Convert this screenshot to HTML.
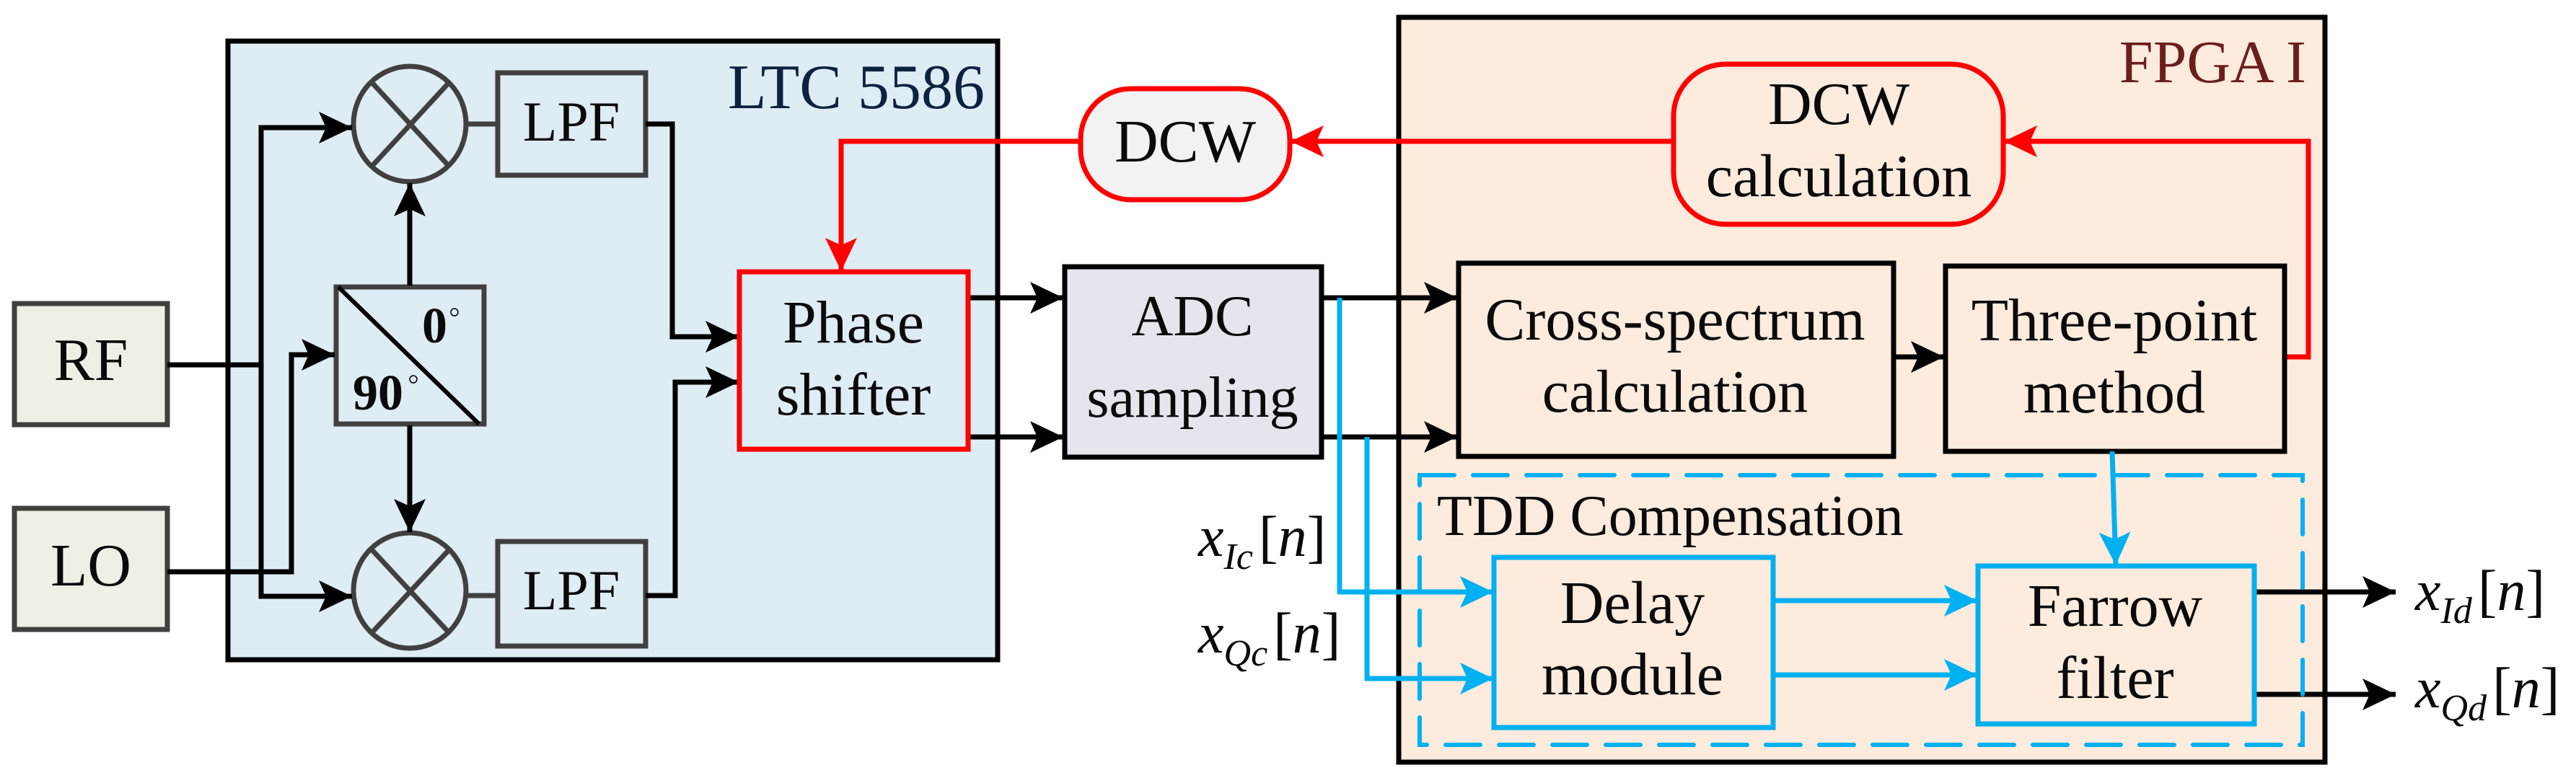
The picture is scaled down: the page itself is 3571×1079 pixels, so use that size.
<!DOCTYPE html>
<html><head><meta charset="utf-8"><style>
html,body{margin:0;padding:0;background:#fff}
svg{display:block}
</style></head><body>
<svg width="3571" height="1079" viewBox="0 0 3571 1079" xmlns="http://www.w3.org/2000/svg">
<defs>
<marker id="ak" markerUnits="userSpaceOnUse" markerWidth="50" markerHeight="50" refX="46" refY="22" orient="auto"><path d="M0,0 L46,22 L0,44 L10,22 Z" fill="#000"/></marker>
<marker id="ar" markerUnits="userSpaceOnUse" markerWidth="50" markerHeight="50" refX="46" refY="22" orient="auto"><path d="M0,0 L46,22 L0,44 L10,22 Z" fill="#f00"/></marker>
<marker id="ab" markerUnits="userSpaceOnUse" markerWidth="50" markerHeight="50" refX="46" refY="22" orient="auto"><path d="M0,0 L46,22 L0,44 L10,22 Z" fill="#00b0f0"/></marker>
</defs>
<rect x="316" y="57" width="1067" height="858" fill="#deecf4" stroke="#000" stroke-width="7"/>
<rect x="1939" y="24" width="1284" height="1033" fill="#fdebdd" stroke="#000" stroke-width="7"/>

<rect x="20" y="421" width="212" height="168" fill="#eef0e6" stroke="#404040" stroke-width="7"/>
<rect x="20" y="705" width="212" height="168" fill="#eef0e6" stroke="#404040" stroke-width="7"/>

<g stroke="#404040" stroke-width="7" fill="none">
<ellipse cx="568" cy="172" rx="78" ry="80"/>
<line x1="516" y1="115" x2="622" y2="230"/><line x1="622" y1="115" x2="516" y2="230"/>
<ellipse cx="568" cy="819" rx="78" ry="80"/>
<line x1="516" y1="763" x2="622" y2="877"/><line x1="622" y1="763" x2="516" y2="877"/>
<rect x="690" y="101" width="205" height="142"/>
<rect x="690" y="751" width="205" height="145"/>
<rect x="466" y="398" width="205" height="190"/>
<line x1="646" y1="172" x2="690" y2="172"/>
<line x1="646" y1="826" x2="690" y2="826"/>
</g>
<line x1="469" y1="398" x2="664" y2="588" stroke="#000" stroke-width="6"/>
<circle cx="630" cy="433" r="5" fill="none" stroke="#000" stroke-width="1.5"/>
<circle cx="573" cy="526" r="5" fill="none" stroke="#000" stroke-width="1.5"/>

<g stroke="#000" stroke-width="7" fill="none">
<polyline points="232,506 362,506"/>
<polyline points="362,506 362,177 488,177" marker-end="url(#ak)"/>
<polyline points="362,506 362,827 488,827" marker-end="url(#ak)"/>
<polyline points="232,793 404,793 404,492 464,492" marker-end="url(#ak)"/>
<line x1="568" y1="396" x2="568" y2="254" marker-end="url(#ak)"/>
<line x1="568" y1="590" x2="568" y2="738" marker-end="url(#ak)"/>
<polyline points="895,172 932,172 932,467 1024,467" marker-end="url(#ak)"/>
<polyline points="895,826 936,826 936,530 1024,530" marker-end="url(#ak)"/>
<line x1="1342" y1="413" x2="1474" y2="413" marker-end="url(#ak)"/>
<line x1="1342" y1="606" x2="1474" y2="606" marker-end="url(#ak)"/>
<line x1="1832" y1="413" x2="2020" y2="413" marker-end="url(#ak)"/>
<line x1="1832" y1="606" x2="2020" y2="606" marker-end="url(#ak)"/>
<line x1="2625" y1="495" x2="2695" y2="495" marker-end="url(#ak)"/>
<line x1="3125" y1="821" x2="3321" y2="821" marker-end="url(#ak)"/>
<line x1="3125" y1="963" x2="3321" y2="963" marker-end="url(#ak)"/>
</g>

<rect x="1025" y="377" width="317" height="246" fill="#deecf4" stroke="#f00" stroke-width="7"/>
<rect x="1476" y="370" width="356" height="264" fill="#e8e4ee" stroke="#000" stroke-width="7"/>
<rect x="1498" y="123" width="290" height="154" rx="70" fill="#f2f2f2" stroke="#f00" stroke-width="7"/>
<rect x="2320" y="89" width="457" height="222" rx="72" fill="#fdebdd" stroke="#f00" stroke-width="7"/>

<g stroke="#f00" stroke-width="7" fill="none">
<line x1="2320" y1="196" x2="1789" y2="196" marker-end="url(#ar)"/>
<polyline points="1498,196 1166,196 1166,376" marker-end="url(#ar)"/>
<polyline points="3167,495 3200,495 3200,196 2778,196" marker-end="url(#ar)"/>
</g>

<rect x="2022" y="365" width="603" height="268" fill="#fdebdd" stroke="#000" stroke-width="7"/>
<rect x="2697" y="369" width="470" height="257" fill="#fdebdd" stroke="#000" stroke-width="7"/>

<rect x="1968" y="659" width="1224" height="374" fill="none" stroke="#00b0f0" stroke-width="6" stroke-dasharray="48,26" stroke-linecap="round"/>
<rect x="2071" y="773" width="387" height="236" fill="#fdebdd" stroke="#00b0f0" stroke-width="7"/>
<rect x="2742" y="785" width="383" height="219" fill="#fdebdd" stroke="#00b0f0" stroke-width="7"/>
<g stroke="#00b0f0" stroke-width="7" fill="none">
<polyline points="1857,413 1857,821 2070,821" marker-end="url(#ab)"/>
<polyline points="1895,606 1895,941 2070,941" marker-end="url(#ab)"/>
<line x1="2458" y1="833" x2="2741" y2="833" marker-end="url(#ab)"/>
<line x1="2458" y1="936" x2="2741" y2="936" marker-end="url(#ab)"/>
<line x1="2928" y1="626" x2="2933" y2="784" marker-end="url(#ab)"/>
</g>

<text x="1365" y="150" font-size="88" text-anchor="end" font-family="Liberation Serif, serif" fill="#0d2240">LTC 5586</text>
<text x="3197" y="114" font-size="84" text-anchor="end" font-family="Liberation Serif, serif" fill="#6b1e1e">FPGA I</text>
<text x="126" y="527" font-size="84" text-anchor="middle" font-family="Liberation Serif, serif" fill="#0a0a0a">RF</text>
<text x="126" y="812" font-size="84" text-anchor="middle" font-family="Liberation Serif, serif" fill="#0a0a0a">LO</text>
<text x="792" y="195" font-size="78" text-anchor="middle" font-family="Liberation Serif, serif" fill="#0a0a0a">LPF</text>
<text x="792" y="845" font-size="78" text-anchor="middle" font-family="Liberation Serif, serif" fill="#0a0a0a">LPF</text>
<text x="585" y="475" font-size="70" font-weight="bold" font-family="Liberation Serif, serif" fill="#0a0a0a">0</text>
<text x="489" y="568" font-size="70" font-weight="bold" font-family="Liberation Serif, serif" fill="#0a0a0a">90</text>
<text x="1183" y="475" font-size="84" text-anchor="middle" font-family="Liberation Serif, serif" fill="#0a0a0a">Phase</text>
<text x="1183" y="575" font-size="84" text-anchor="middle" font-family="Liberation Serif, serif" fill="#0a0a0a">shifter</text>
<text x="1653" y="465" font-size="80" text-anchor="middle" font-family="Liberation Serif, serif" fill="#0a0a0a">ADC</text>
<text x="1653" y="578" font-size="80" text-anchor="middle" font-family="Liberation Serif, serif" fill="#0a0a0a">sampling</text>
<text x="1643" y="224" font-size="84" text-anchor="middle" font-family="Liberation Serif, serif" fill="#0a0a0a">DCW</text>
<text x="2549" y="172" font-size="84" text-anchor="middle" font-family="Liberation Serif, serif" fill="#0a0a0a">DCW</text>
<text x="2549" y="272" font-size="84" text-anchor="middle" font-family="Liberation Serif, serif" fill="#0a0a0a">calculation</text>
<text x="2322" y="471" font-size="84" text-anchor="middle" font-family="Liberation Serif, serif" fill="#0a0a0a">Cross-spectrum</text>
<text x="2322" y="571" font-size="84" text-anchor="middle" font-family="Liberation Serif, serif" fill="#0a0a0a">calculation</text>
<text x="2931" y="472" font-size="84" text-anchor="middle" font-family="Liberation Serif, serif" fill="#0a0a0a">Three-point</text>
<text x="2931" y="572" font-size="84" text-anchor="middle" font-family="Liberation Serif, serif" fill="#0a0a0a">method</text>
<text x="1992" y="742" font-size="80" font-family="Liberation Serif, serif" fill="#0a0a0a">TDD Compensation</text>
<text x="2263" y="864" font-size="84" text-anchor="middle" font-family="Liberation Serif, serif" fill="#0a0a0a">Delay</text>
<text x="2263" y="963" font-size="84" text-anchor="middle" font-family="Liberation Serif, serif" fill="#0a0a0a">module</text>
<text x="2932" y="868" font-size="84" text-anchor="middle" font-family="Liberation Serif, serif" fill="#0a0a0a">Farrow</text>
<text x="2932" y="968" font-size="84" text-anchor="middle" font-family="Liberation Serif, serif" fill="#0a0a0a">filter</text>
<text x="1661" y="771" font-size="80" font-family="Liberation Serif, serif" fill="#0a0a0a"><tspan font-style="italic">x</tspan><tspan font-style="italic" font-size="52" dy="18">Ic</tspan><tspan dy="-18" dx="8">[</tspan><tspan font-style="italic">n</tspan>]</text>
<text x="1661" y="905" font-size="80" font-family="Liberation Serif, serif" fill="#0a0a0a"><tspan font-style="italic">x</tspan><tspan font-style="italic" font-size="52" dy="18">Qc</tspan><tspan dy="-18" dx="8">[</tspan><tspan font-style="italic">n</tspan>]</text>
<text x="3348" y="846" font-size="80" font-family="Liberation Serif, serif" fill="#0a0a0a"><tspan font-style="italic">x</tspan><tspan font-style="italic" font-size="52" dy="18">Id</tspan><tspan dy="-18" dx="8">[</tspan><tspan font-style="italic">n</tspan>]</text>
<text x="3348" y="981" font-size="80" font-family="Liberation Serif, serif" fill="#0a0a0a"><tspan font-style="italic">x</tspan><tspan font-style="italic" font-size="52" dy="18">Qd</tspan><tspan dy="-18" dx="8">[</tspan><tspan font-style="italic">n</tspan>]</text>
</svg>
</body></html>
